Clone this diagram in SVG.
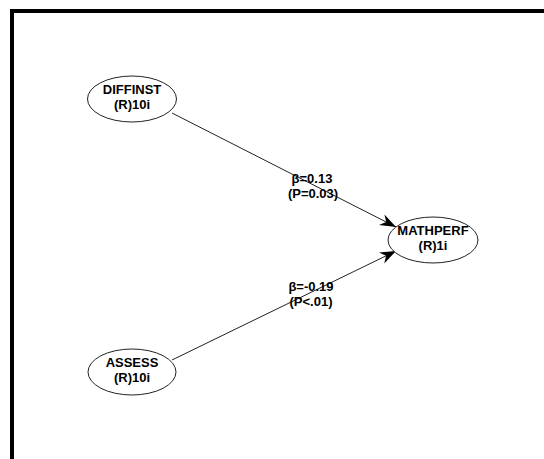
<svg xmlns="http://www.w3.org/2000/svg" width="544" height="459" viewBox="0 0 544 459">
<defs>
<style>
.n ellipse{fill:#fff;stroke:#222;stroke-width:1}
.t{font-family:"Liberation Sans",Arial,sans-serif;font-weight:bold;font-size:13px;text-anchor:middle;fill:#000}
.c line{stroke:#222;stroke-width:1;marker-end:url(#ah)}
</style>
<marker id="ah" markerUnits="userSpaceOnUse" viewBox="-16 -7 18 14" markerWidth="18" markerHeight="14" refX="0" refY="0" orient="auto">
<path d="M0,0 L-16,-6 L-11,0 L-16,6 Z" fill="#000"/>
</marker>
</defs>
<rect width="544" height="459" fill="#fff"/>
<path d="M12,459 V11 H544" fill="none" stroke="#000" stroke-width="4"/>
<g id="connectors" class="c">
<line x1="172" y1="113" x2="396" y2="227"/>
<line x1="172" y1="360" x2="396" y2="251"/>
</g>
<g id="labels">
<text class="t" x="312" y="183">β=0.13</text>
<text class="t" x="313" y="198">(P=0.03)</text>
<text class="t" x="311" y="291">β=-0.19</text>
<text class="t" x="311" y="306">(P&lt;.01)</text>
</g>
<g id="DIFFINST" class="n">
<ellipse cx="132" cy="99" rx="44.5" ry="23"/>
<text class="t" x="132" y="94">DIFFINST</text>
<text class="t" x="132" y="109">(R)10i</text>
</g>
<g id="MATHPERF" class="n">
<ellipse cx="433" cy="240" rx="45" ry="23"/>
<text class="t" x="433" y="235">MATHPERF</text>
<text class="t" x="433" y="250">(R)1i</text>
</g>
<g id="ASSESS" class="n">
<ellipse cx="132" cy="372" rx="44" ry="23"/>
<text class="t" x="132" y="367">ASSESS</text>
<text class="t" x="132" y="382">(R)10i</text>
</g>
</svg>
